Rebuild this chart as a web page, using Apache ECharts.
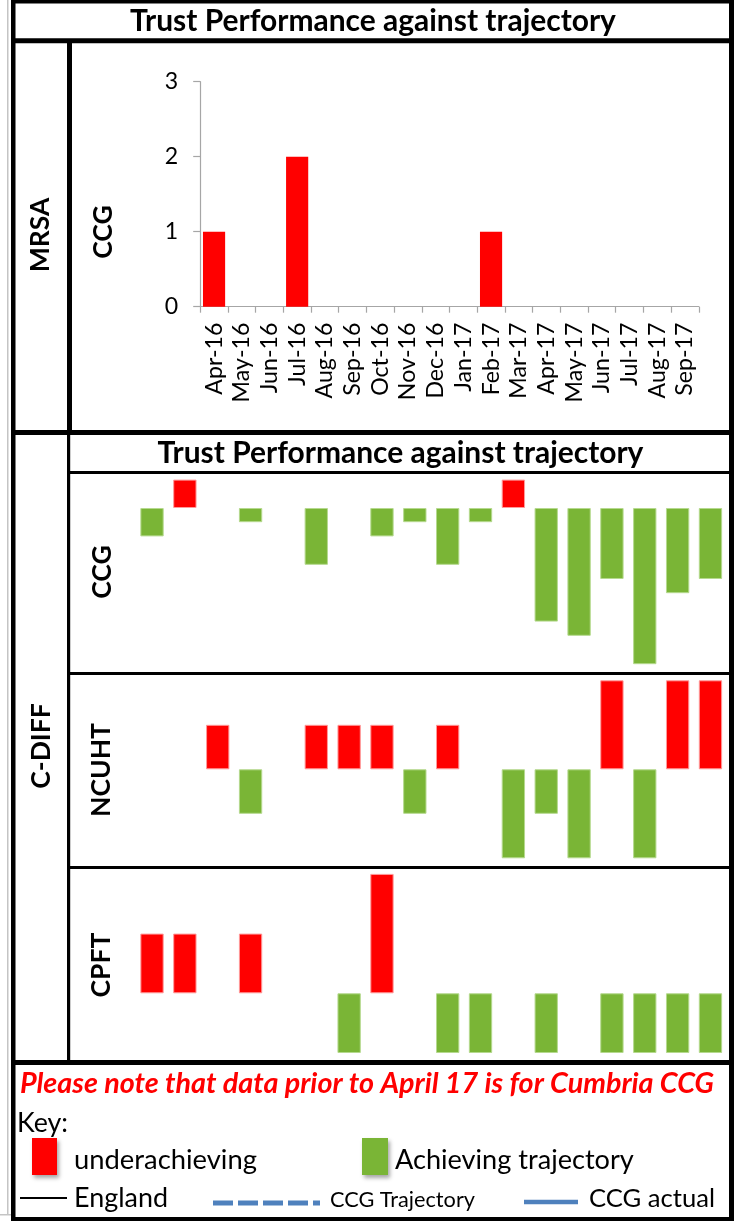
<!DOCTYPE html>
<html>
<head>
<meta charset="utf-8">
<title>Trust Performance against trajectory</title>
<script src="https://cdn.jsdelivr.net/npm/echarts@6/dist/echarts.min.js"></script>
<style>
  html, body { margin: 0; padding: 0; background: #ffffff; }
  #chart { width: 734px; height: 1221px; }
</style>
</head>
<body>
<div id="chart"></div>
<script>
// ---- data -------------------------------------------------------------
const months = ['Apr-16', 'May-16', 'Jun-16', 'Jul-16', 'Aug-16', 'Sep-16',
                'Oct-16', 'Nov-16', 'Dec-16', 'Jan-17', 'Feb-17', 'Mar-17',
                'Apr-17', 'May-17', 'Jun-17', 'Jul-17', 'Aug-17', 'Sep-17'];

// MRSA cases (CCG)
const mrsaCCG = [1, 0, 0, 2, 0, 0, 0, 0, 0, 0, 1, 0, 0, 0, 0, 0, 0, 0];
const mrsaTicks = [0, 1, 2, 3];

// C-DIFF: cases above (+) or below (-) trajectory
const cdiffCCG   = [-2, 2, 0, -1, 0, -4, 0, -2, -1, -4, -1, 2, -8, -9, -5, -11, -6, -5];
const cdiffNCUHT = [0, 0, 1, -1, 0, 1, 1, 1, -1, 1, 0, -2, -1, -2, 2, -2, 2, 2];
const cdiffCPFT  = [1, 1, 0, 1, 0, 0, -1, 2, 0, -1, -1, 0, -1, 0, -1, -1, -1, -1];

const titleText = 'Trust Performance against trajectory';
const noteText = 'Please note that data prior to April 17 is for Cumbria CCG';

// ---- styling helpers ----------------------------------------------------
const FAMILY = 'Lato, "Open Sans", sans-serif';
const RED = '#FF0000';
const GREEN = '#7AB536';
const BLUE = '#4F81BD';

const measureCtx = document.createElement('canvas').getContext('2d');
// font size (px) that makes `text` span `width` pixels
function fitSize(text, width, weight = 'normal', style = 'normal') {
  measureCtx.font = `${style} ${weight} 100px ${FAMILY}`;
  return 100 * width / measureCtx.measureText(text).width;
}
function fontStr(size, weight = 'normal', style = 'normal') {
  return `${style} ${weight} ${size.toFixed(2)}px ${FAMILY}`;
}
function label(text, x, y, font, opt = {}) {
  const align = opt.align || 'left';
  return {
    type: 'text', x, y, rotation: opt.rotation || 0, z: 10,
    style: {
      text, font, fill: opt.fill || '#000',
      align, textAlign: align,
      verticalAlign: 'middle', textVerticalAlign: 'middle'
    }
  };
}
function block(x, y, w, h, fill = '#000') {
  return { type: 'rect', shape: { x, y, width: w, height: h }, style: { fill }, z: 5 };
}

// ---- sizes of text ------------------------------------------------------
const titleSize = fitSize(titleText, 486, 'bold');
const rowSize = fitSize('NCUHT', 94, 'bold');
const axisSize = fitSize('Apr-16', 72);
const noteSize = fitSize(noteText, 694, 'bold', 'italic');
const keySize = fitSize('underachieving', 183);

// ---- table frame and key --------------------------------------------------
const graphics = [
  // faint outer rule
  block(7, 0, 1.5, 1215, '#c4c4c4'),
  block(0, 1214, 13, 1.5, '#c4c4c4'),
  // frame
  block(11, 0, 723, 3.5),
  block(11, 0, 4.5, 1221),
  block(729, 0, 5, 1221),
  block(11, 38.3, 723, 5),
  block(67, 43, 5, 387),
  block(11, 430, 723, 5),
  block(67, 435, 3.2, 625),
  block(70, 471, 659, 3),
  block(70, 672, 659, 3),
  block(70, 866, 659, 3),
  block(11, 1060, 723, 5),
  block(11, 1217, 723, 4),

  // headings
  label(titleText, 373, 21, fontStr(titleSize, 'bold'), { align: 'center' }),
  label(titleText, 400.5, 453, fontStr(titleSize, 'bold'), { align: 'center' }),

  // row headers (read bottom to top)
  label('MRSA', 40, 235, fontStr(rowSize, 'bold'), { align: 'center', rotation: Math.PI / 2 }),
  label('CCG', 103, 232, fontStr(rowSize, 'bold'), { align: 'center', rotation: Math.PI / 2 }),
  label('C-DIFF', 41, 746, fontStr(rowSize, 'bold'), { align: 'center', rotation: Math.PI / 2 }),
  label('CCG', 102, 572, fontStr(rowSize, 'bold'), { align: 'center', rotation: Math.PI / 2 }),
  label('NCUHT', 101, 770, fontStr(rowSize, 'bold'), { align: 'center', rotation: Math.PI / 2 }),
  label('CPFT', 101, 965, fontStr(rowSize, 'bold'), { align: 'center', rotation: Math.PI / 2 }),

  // note and key
  label(noteText, 367, 1084, fontStr(noteSize, 'bold', 'italic'), { align: 'center', fill: RED }),
  label('Key:', 17, 1123, fontStr(fitSize('Key:', 51))),
  {
    type: 'rect', z: 6, shape: { x: 32, y: 1138, width: 25, height: 37 },
    style: { fill: RED, shadowBlur: 4, shadowOffsetX: 2, shadowOffsetY: 3, shadowColor: 'rgba(0,0,0,0.35)' }
  },
  label('underachieving', 74, 1160, fontStr(keySize)),
  {
    type: 'rect', z: 6, shape: { x: 362, y: 1138, width: 26, height: 37 },
    style: { fill: GREEN, shadowBlur: 4, shadowOffsetX: 2, shadowOffsetY: 3, shadowColor: 'rgba(0,0,0,0.35)' }
  },
  label('Achieving trajectory', 395, 1160, fontStr(fitSize('Achieving trajectory', 239))),
  { type: 'line', z: 6, shape: { x1: 20, y1: 1198, x2: 67, y2: 1198 }, style: { stroke: '#000', lineWidth: 2 } },
  label('England', 74, 1198, fontStr(fitSize('England', 94))),
  {
    type: 'line', z: 6, shape: { x1: 213, y1: 1203, x2: 320, y2: 1203 },
    style: { stroke: BLUE, lineWidth: 5, lineDash: [20, 5] }
  },
  label('CCG Trajectory', 330, 1200, fontStr(fitSize('CCG Trajectory', 145))),
  { type: 'line', z: 6, shape: { x1: 524, y1: 1202, x2: 578, y2: 1202 }, style: { stroke: BLUE, lineWidth: 4.5 } },
  label('CCG actual', 589, 1199, fontStr(fitSize('CCG actual', 126)))
];

// ---- charts -------------------------------------------------------------
const CD_LEFT = 135.6, CD_WIDTH = 591.3;
const grids = [
  { left: 200.2, top: 81.7, width: 498.6, height: 225 },         // MRSA
  { left: CD_LEFT, top: 479.6, width: CD_WIDTH, height: 198.8 }, // C-DIFF CCG
  { left: CD_LEFT, top: 680.3, width: CD_WIDTH, height: 178 },   // C-DIFF NCUHT
  { left: CD_LEFT, top: 873.9, width: CD_WIDTH, height: 179.1 }  // C-DIFF CPFT
].map(g => Object.assign({ containLabel: false, outerBoundsMode: 'none' }, g));

const cdiffRanges = [[-12, 2], [-2, 2], [-1, 2]];
const cdiffRows = [cdiffCCG, cdiffNCUHT, cdiffCPFT];

const xAxes = [{
  type: 'category', gridIndex: 0, data: months,
  axisLine: { lineStyle: { color: '#a6a6a6', width: 1.2 } },
  axisTick: { show: true, alignWithLabel: false, interval: 0, length: 6, lineStyle: { color: '#a6a6a6', width: 1.2 } },
  axisLabel: { interval: 0, rotate: 90, margin: 16, color: '#000', fontFamily: FAMILY, fontSize: axisSize }
}];
const yAxes = [{
  type: 'value', gridIndex: 0,
  min: mrsaTicks[0], max: mrsaTicks[mrsaTicks.length - 1], interval: 1,
  splitLine: { show: false },
  axisLine: { show: true, lineStyle: { color: '#a6a6a6', width: 1.2 } },
  axisTick: { show: true, length: 7, lineStyle: { color: '#a6a6a6', width: 1.2 } },
  axisLabel: { margin: 22, color: '#000', fontFamily: FAMILY, fontSize: axisSize }
}];
const series = [{
  type: 'bar', xAxisIndex: 0, yAxisIndex: 0, name: 'MRSA CCG',
  data: mrsaCCG, barWidth: '80%', itemStyle: { color: RED }
}];

// red = underachieving (above trajectory), green = achieving (below)
function cdiffItem(v) {
  if (v === 0) return '-';
  const over = v > 0;
  return {
    value: v,
    itemStyle: {
      color: over ? RED : GREEN,
      borderColor: over ? '#ff9a9a' : '#b5d98e',
      borderWidth: 1
    }
  };
}

cdiffRows.forEach((row, i) => {
  const gi = i + 1;
  xAxes.push({ type: 'category', gridIndex: gi, data: months, show: false });
  yAxes.push({ type: 'value', gridIndex: gi, min: cdiffRanges[i][0], max: cdiffRanges[i][1], show: false, splitLine: { show: false } });
  series.push({
    type: 'bar', xAxisIndex: gi, yAxisIndex: gi,
    data: row.map(cdiffItem),
    barWidth: '71%'
  });
});

const chart = echarts.init(document.getElementById('chart'), null, { renderer: 'canvas' });
chart.setOption({
  backgroundColor: '#ffffff',
  animation: false,
  grid: grids,
  xAxis: xAxes,
  yAxis: yAxes,
  series,
  graphic: graphics
});
</script>
</body>
</html>
